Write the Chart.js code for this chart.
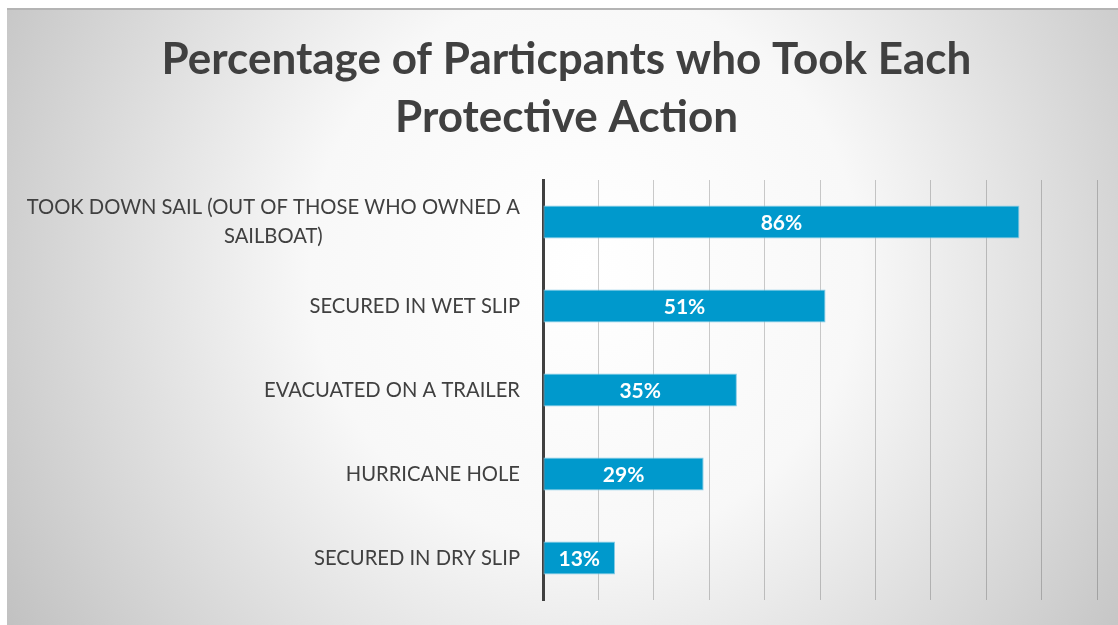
<!DOCTYPE html>
<html>
<head>
<meta charset="utf-8">
<script src="https://cdn.jsdelivr.net/npm/chart.js@4.4.1/dist/chart.umd.min.js"></script>
<style>
  html, body { margin: 0; padding: 0; background: #fff; }
  #wrap { position: absolute; left: 7px; top: 8px; width: 1111px; height: 617px; }
</style>
</head>
<body>
<div id="wrap"><canvas id="myChart" width="1111" height="617"></canvas></div>
<script>
'use strict';

const actionNames = [
  ['TOOK DOWN SAIL (OUT OF THOSE WHO OWNED A', 'SAILBOAT)'],
  'SECURED IN WET SLIP',
  'EVACUATED ON A TRAILER',
  'HURRICANE HOLE',
  'SECURED IN DRY SLIP'
];
const actionPercents = [86, 51, 35, 29, 13];
const titleLines = ['Percentage of Particpants who Took Each', 'Protective Action'];

const textColor = '#404040';
const labelFont = '20.2px Lato, "Open Sans", sans-serif';

// grey radial backdrop behind everything
const backdrop = {
  id: 'backdrop',
  beforeDraw(chart) {
    const ctx = chart.ctx;
    const w = chart.width;
    const h = chart.height;
    ctx.save();
    const g = ctx.createRadialGradient(w * 0.52, h * 0.42, 0, w * 0.52, h * 0.42, w * 0.62);
    g.addColorStop(0, '#ffffff');
    g.addColorStop(0.4, '#f8f8f8');
    g.addColorStop(1, '#c0c0c0');
    ctx.fillStyle = g;
    ctx.fillRect(0, 0, w, h);
    ctx.fillStyle = '#b4b4b4';
    ctx.fillRect(0, 0, w, 2);
    ctx.restore();
  }
};

// category names, wrapped lines centred within their block
const categoryText = {
  id: 'categoryText',
  afterDraw(chart) {
    const ctx = chart.ctx;
    const y = chart.scales.y;
    const right = chart.chartArea.left - 23;
    ctx.save();
    ctx.font = labelFont;
    ctx.fillStyle = textColor;
    ctx.textAlign = 'center';
    ctx.textBaseline = 'middle';
    actionNames.forEach((name, i) => {
      const lines = Array.isArray(name) ? name : [name];
      const blockW = Math.max(...lines.map(l => ctx.measureText(l).width));
      const cx = right - blockW / 2;
      const cy = y.getPixelForValue(i);
      const lh = 29;
      lines.forEach((l, k) => {
        ctx.fillText(l, cx, cy + (k - (lines.length - 1) / 2) * lh);
      });
    });
    ctx.restore();
  }
};

// percent values printed inside each bar
const barValues = {
  id: 'barValues',
  afterDatasetsDraw(chart) {
    const ctx = chart.ctx;
    const meta = chart.getDatasetMeta(0);
    ctx.save();
    ctx.font = 'bold 21px Lato, "Open Sans", sans-serif';
    ctx.fillStyle = '#ffffff';
    ctx.textAlign = 'center';
    ctx.textBaseline = 'middle';
    meta.data.forEach((bar, i) => {
      ctx.fillText(actionPercents[i] + '%', (bar.base + bar.x) / 2, bar.y + 1);
    });
    ctx.restore();
  }
};

const ctx = document.getElementById('myChart').getContext('2d');
new Chart(ctx, {
  type: 'bar',
  data: {
    labels: actionNames,
    datasets: [{
      data: actionPercents,
      backgroundColor: '#0099cc',
      borderColor: '#86cbe6',
      borderWidth: 1,
      borderSkipped: false,
      barPercentage: 0.39,
      categoryPercentage: 1
    }]
  },
  options: {
    indexAxis: 'y',
    responsive: false,
    animation: false,
    layout: { padding: { top: 0, right: 21, bottom: 25, left: 29 } },
    plugins: {
      legend: { display: false },
      tooltip: { enabled: false },
      title: {
        display: true,
        text: titleLines,
        color: textColor,
        font: { family: 'Lato, "Open Sans", sans-serif', size: 44, weight: 'bold', lineHeight: 58 / 44 },
        padding: { top: 23, bottom: 33 }
      }
    },
    scales: {
      x: {
        min: 0,
        max: 100,
        ticks: { display: false, stepSize: 10 },
        grid: { color: 'rgba(0,0,0,0.2)', lineWidth: 1, drawTicks: false, tickLength: 0 },
        border: { display: false }
      },
      y: {
        ticks: { display: false },
        grid: { display: false, drawTicks: false },
        border: { display: true, color: '#404040', width: 3 },
        afterFit(scale) { scale.width = 507; }
      }
    }
  },
  plugins: [backdrop, categoryText, barValues]
});
</script>
</body>
</html>
